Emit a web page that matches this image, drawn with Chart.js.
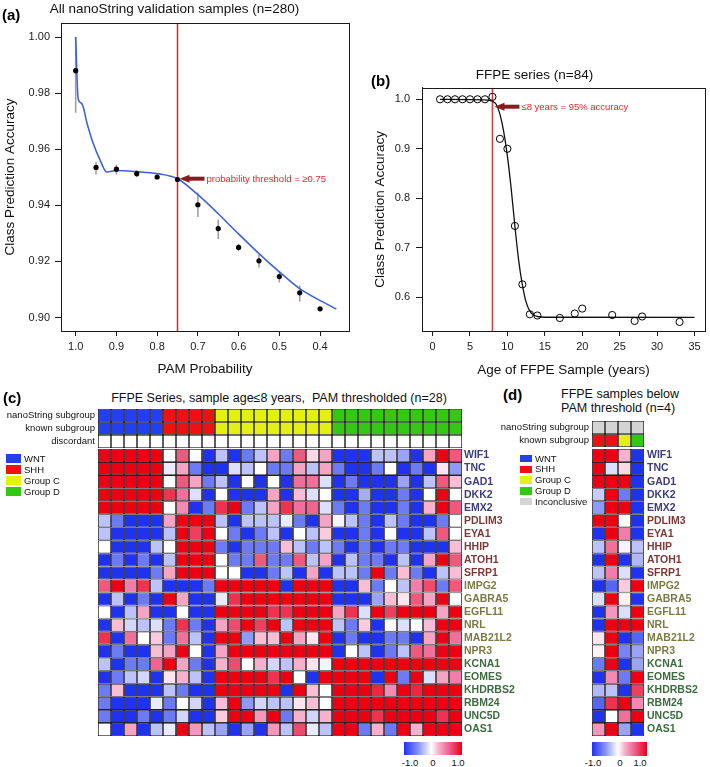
<!DOCTYPE html>
<html>
<head>
<meta charset="utf-8">
<script src="https://cdn.jsdelivr.net/npm/chart.js@4.4.1/dist/chart.umd.min.js"></script>
<style>
  body { margin: 0; background: #fff; font-family: "Liberation Sans", Arial, Helvetica, sans-serif; }
  #page { position: relative; width: 710px; height: 767px; overflow: hidden; background: #fff; }
  canvas { position: absolute; }
  .t { position: absolute; white-space: pre; line-height: 1; color: #111; }
  .panel { font-weight: bold; font-size: 15px; color: #000; }
  .sw { position: absolute; }
</style>
</head>
<body>
<div id="page">
  <canvas id="chartA" width="360" height="380" style="left:0;top:0"></canvas>
  <canvas id="chartB" width="350" height="322" style="left:360px;top:58px"></canvas>
  <canvas id="annoC" width="462" height="39" style="left:0;top:409px"></canvas>
  <canvas id="heatC" width="434" height="287" style="left:98px;top:449px"></canvas>
  <canvas id="annoD" width="164" height="26" style="left:480px;top:421px"></canvas>
  <canvas id="heatD" width="118" height="287" style="left:592px;top:449px"></canvas>

  <div class="t panel" style="left:2px;top:7px">(a)</div>
  <div class="t panel" style="left:371px;top:73px">(b)</div>
  <div class="t panel" style="left:3px;top:390px">(c)</div>
  <div class="t panel" style="left:503px;top:387px">(d)</div>

  <div class="t" style="left:279px;top:392px;font-size:12.5px;transform:translateX(-50%)">FFPE Series, sample age≤8 years,  PAM thresholded (n=28)</div>
  <div class="t" style="left:561px;top:388px;font-size:12.5px">FFPE samples below</div>
  <div class="t" style="left:561px;top:402px;font-size:12.5px">PAM threshold (n=4)</div>

  <div id="legendC"></div>
  <div id="legendD"></div>

  <div class="sw" style="left:404px;top:742px;width:58px;height:13px;background:linear-gradient(to right,#1e32f0,#8a95f2 25%,#fff 47%,#f4b0ca 60%,#ef5585 80%,#ec0012)"></div>
  <div class="t" style="left:410px;top:758px;font-size:9.5px;transform:translateX(-50%)">-1.0</div>
  <div class="t" style="left:433px;top:758px;font-size:9.5px;transform:translateX(-50%)">0</div>
  <div class="t" style="left:458px;top:758px;font-size:9.5px;transform:translateX(-50%)">1.0</div>

  <div class="sw" style="left:592px;top:742px;width:55px;height:14px;background:linear-gradient(to right,#1e32f0,#8a95f2 25%,#fff 47%,#f4b0ca 60%,#ef5585 80%,#ec0012)"></div>
  <div class="t" style="left:593px;top:758px;font-size:9.5px;transform:translateX(-50%)">-1.0</div>
  <div class="t" style="left:620px;top:758px;font-size:9.5px;transform:translateX(-50%)">0</div>
  <div class="t" style="left:640px;top:758px;font-size:9.5px;transform:translateX(-50%)">1.0</div>
</div>

<script>
// ---- (a) PAM probability vs accuracy ----
const pamProb = [1.0, 0.95, 0.9, 0.85, 0.8, 0.75, 0.7, 0.65, 0.6, 0.55, 0.5, 0.45, 0.4];
const pamAcc = [0.988, 0.9535, 0.9529, 0.9513, 0.9501, 0.9492, 0.9402, 0.9317, 0.925, 0.9202, 0.9146, 0.9088, 0.9031];
const pamErrLow = [0.973, 0.951, 0.951, 0.950, 0.9495, 0.9487, 0.9358, 0.928, 0.9237, 0.9178, 0.9125, 0.9057, 0.9031];
const pamErrHigh = [1.000, 0.9555, 0.9545, 0.9525, 0.9507, 0.9497, 0.9445, 0.9349, 0.9263, 0.9224, 0.9165, 0.9114, 0.9031];
const smoothProb = [1.0, 0.994, 0.985, 0.972, 0.957, 0.94, 0.924, 0.9, 0.85, 0.8, 0.75, 0.7, 0.65, 0.6, 0.55, 0.5, 0.45, 0.36];
const smoothAcc = [1.0, 0.978, 0.9763, 0.9692, 0.9621, 0.9561, 0.9519, 0.9524, 0.952, 0.9513, 0.9495, 0.9438, 0.937, 0.9298, 0.9228, 0.9163, 0.9103, 0.903];
const pamTicksX = [1.0, 0.9, 0.8, 0.7, 0.6, 0.5, 0.4];
const pamTicksY = [0.90, 0.92, 0.94, 0.96, 0.98, 1.00];
const pamThreshold = 0.75;

// ---- (b) FFPE age vs accuracy ----
const ffpeAge = [1, 2, 3, 4, 5, 6, 7, 8, 9, 10, 11, 12, 13, 14, 17, 19, 20, 24, 27, 28, 33];
const ffpeAcc = [1, 1, 1, 1, 1, 1, 1, 1.005, 0.92, 0.9, 0.744, 0.626, 0.5655, 0.563, 0.558, 0.567, 0.577, 0.564, 0.552, 0.561, 0.55];
const fitAge = [1, 7, 8, 8.5, 9, 9.5, 10, 10.5, 11, 11.5, 12, 12.5, 13, 13.5, 14, 15, 35];
const fitAcc = [1.0, 0.999, 0.996, 0.99, 0.97, 0.935, 0.885, 0.82, 0.744, 0.675, 0.625, 0.59, 0.572, 0.564, 0.561, 0.5595, 0.5594];
const ageTicks = [0, 5, 10, 15, 20, 25, 30, 35];
const ffpeTicksY = [0.6, 0.7, 0.8, 0.9, 1.0];
const ageThreshold = 8;

// ---- (c)/(d) heatmaps ----
const genes = ['WIF1', 'TNC', 'GAD1', 'DKK2', 'EMX2', 'PDLIM3', 'EYA1', 'HHIP', 'ATOH1', 'SFRP1',
  'IMPG2', 'GABRA5', 'EGFL11', 'NRL', 'MAB21L2', 'NPR3', 'KCNA1', 'EOMES', 'KHDRBS2', 'RBM24', 'UNC5D', 'OAS1'];
const geneGroup = ['WNT', 'WNT', 'WNT', 'WNT', 'WNT', 'SHH', 'SHH', 'SHH', 'SHH', 'SHH',
  'Group C', 'Group C', 'Group C', 'Group C', 'Group C', 'Group C', 'Group D', 'Group D', 'Group D', 'Group D', 'Group D', 'Group D'];
const subgroups = ['WNT', 'SHH', 'Group C', 'Group D'];
const subgroupsD = ['WNT', 'SHH', 'Group C', 'Group D', 'Inconclusive'];
const groupColor = { 'WNT': '#2340ee', 'SHH': '#ee1111', 'Group C': '#e4f014', 'Group D': '#33c812', 'Inconclusive': '#d4d4d4' };
const labelColor = { 'WNT': '#3b3d80', 'SHH': '#7d3838', 'Group C': '#7b7a44', 'Group D': '#3c6b3e' };

const nanoC = ['WNT', 'WNT', 'WNT', 'WNT', 'WNT', 'SHH', 'SHH', 'SHH', 'SHH',
  'Group C', 'Group C', 'Group C', 'Group C', 'Group C', 'Group C', 'Group C', 'Group C', 'Group C',
  'Group D', 'Group D', 'Group D', 'Group D', 'Group D', 'Group D', 'Group D', 'Group D', 'Group D', 'Group D'];
const knownC = nanoC.slice();
const discordantC = [0, 0, 0, 0, 0, 0, 0, 0, 0, 0, 0, 0, 0, 0, 0, 0, 0, 0, 0, 0, 0, 0, 0, 0, 0, 0, 0, 0];
const annoRowsC = ['nanoString subgroup', 'known subgroup', 'discordant'];

const heatC = [
  [1, 1, 1, 1, 1, 0, 0.65, 0, -1, -0.3, -1, -0.65, -0.3, 0.35, -0.65, 0.65, 0.15, 0.35, -1, -1, -1, -0.3, -0.3, -0.45, -1, 0.35, 1, 0.65],
  [1, 1, 1, 1, 1, -0.1, 0.35, -0.65, -1, -1, -0.15, -0.3, 0, -0.65, -0.65, 0.35, -0.3, 0.35, -0.65, -1, -1, -0.65, 0, -1, -0.65, -1, 0.1, -0.5],
  [1, 1, 1, 1, 1, 0, 0.65, 0.35, -0.65, -0.3, -1, 0, -1, 0, -1, 0.55, 0.55, -0.15, -1, -0.65, -1, -1, -1, -0.45, -1, -0.3, 0.65, 0.25],
  [1, 1, 1, 1, 1, 0.8, 0.55, -0.15, -1, 0, -1, -1, -1, 0.35, -1, 0.25, -0.15, 0, -1, -1, -0.4, -1, -1, -0.65, -1, 0, 1, 0],
  [1, 1, 1, 1, 1, 0, 0.45, -1, -0.65, 0.8, 1, -0.65, -0.3, 0.35, 0.8, 0.55, 0.6, -0.15, -0.65, -1, -0.65, -1, -1, -0.65, -1, 0.3, 1, 0.65],
  [-0.3, -0.65, -1, -1, -1, 0.35, 1, 1, 1, -0.3, -1, -0.3, -0.3, -0.3, -0.1, -0.65, -1, 0.35, -0.05, -0.3, -0.65, -1, -0.3, -0.65, -1, -1, -0.65, 0],
  [-0.3, -1, -1, -1, -1, -0.3, 1, 0.75, 1, 0, -0.65, -1, -0.65, -0.3, -1, 0, -0.3, 0.2, -1, -1, -0.65, -1, 0, -1, -1, -0.3, 0.65, 0],
  [0, -1, -1, -1, -0.3, 0, 1, 1, 1, -0.65, -1, -0.65, -0.65, -0.65, 0.25, -0.3, -0.65, -0.3, -0.65, -1, -0.65, -1, -0.65, -0.65, -1, -1, -1, 0.25],
  [-1, -0.65, -1, -0.65, -1, -0.3, 1, 1, 1, 0, -0.65, -0.65, 0.65, -0.65, -0.65, 0.65, -0.3, 0.35, -1, -0.3, -0.65, -0.65, -1, -0.3, -1, 0.35, 1, 0.65],
  [-1, -1, -1, -1, -0.65, 0.35, 1, 1, 1, 0, 0, -1, -1, -0.65, -0.3, -1, 0.35, -1, -0.3, -0.3, -0.65, 1, -0.65, 0.25, -0.65, -1, -0.3, 0.25],
  [0.65, 1, 0.5, 0.8, -0.3, -1, -1, -1, -0.65, 1, 1, 1, 1, 1, -1, 1, 1, 1, -1, -1, 0.25, -0.65, 0, -0.3, 0.5, 0.7, -0.65, 0.65],
  [-1, -0.3, -1, -0.65, -1, 1, 0.35, -1, -1, -0.1, 0.8, 1, 1, 1, 1, 1, 1, 1, -1, -1, -1, -0.45, 0.25, 0.1, 0.65, 0.35, 1, 0],
  [0, -1, -0.3, 0.35, -1, -1, 0, -1, -1, 1, 1, 1, 1, 0.8, 0.8, 1, 1, 1, 0.35, 0.8, -0.15, 1, 0.75, 1, 1, 1, 0.35, 1],
  [-1, 0.25, -0.2, -0.3, -0.15, -0.65, 0.8, -0.65, -1, 0.35, 0.7, 1, 0.75, 1, -0.3, 1, 1, 1, -0.3, -0.65, 0.2, -1, 0, -0.15, 0, 0.25, 1, 1],
  [0.8, -1, 0.55, 0, 0.2, -0.65, 0.55, -0.3, -1, 1, 1, -0.5, 0.25, 0.25, 1, 0.35, 0.1, 1, -1, -0.65, -1, -1, -0.65, -0.65, -1, 0.35, 1, 0.55],
  [-1, -0.65, -1, -1, 0.25, 0.35, 1, 0, -1, 0.35, 1, 1, 1, 1, 1, 1, 1, 1, -1, 0, -0.3, -1, -0.65, -0.3, 0.65, 0.55, 1, 1],
  [-0.3, -1, -0.65, -0.65, 0.6, 1, 0.35, -0.65, -1, 0.3, 0.7, 0, 0.3, -0.2, -0.3, 0.3, 0.1, -0.05, 1, 1, 1, 1, 1, 1, 1, 1, 1, 1],
  [-1, -0.65, -0.3, -0.2, -1, 0.1, 0.3, -0.3, -1, 1, 1, 1, 1, 0.8, 1, 0, -1, 1, 1, 1, 1, -1, 1, -0.65, 1, -0.15, 0.35, 0.5],
  [-0.65, 0.25, -1, -1, -1, -0.3, -0.65, -1, -1, 1, 1, 1, 1, 1, -1, 1, 0.25, 0, 1, 1, 1, 0.85, 0.45, 1, 0.85, 1, 1, 1],
  [-0.65, -1, -1, -1, -0.1, -0.65, 0, -0.2, -1, 0.25, 1, -0.5, -0.2, -0.3, -0.3, 0.1, 0.25, 0, 1, 1, 1, 1, 1, 1, 1, 1, 1, 1],
  [-0.65, -1, -1, -0.65, -1, -0.65, -0.2, -1, -1, 0.2, 1, 1, 0.4, 1, -0.65, 0.3, -0.2, 0.3, 1, 1, 1, 0.8, 1, 1, 1, 1, 0.8, 1],
  [0, -1, 0.35, -1, -0.3, -0.1, 1, 0.4, -0.3, -0.45, -1, -0.45, -1, 0.4, -0.3, 0.7, -0.1, -0.3, 1, 1, -0.65, 0.3, -0.65, 1, 0.3, 1, 1, 1]
];

const nanoD = ['Inconclusive', 'Inconclusive', 'Inconclusive', 'Inconclusive'];
const knownD = ['SHH', 'SHH', 'Group C', 'Group D'];
const annoRowsD = ['nanoString subgroup', 'known subgroup'];
const heatD = [
  [1, 1, 0.3, -1], [1, -0.15, 0.15, -1], [1, 1, 1, -1], [-0.25, 1, -0.65, -1], [-0.5, 1, 1, -1],
  [1, 1, 0, -1], [-1, 1, 0.5, -1], [-0.3, 0.55, -0.05, -0.3], [-1, 1, -1, -0.35], [-0.3, 0.5, -0.15, -1],
  [-1, -0.75, 0.2, 1], [-0.15, 1, 0.05, -1], [-1, 0.4, -0.15, 1], [-1, 1, 1, 1], [0.1, 1, -1, -0.75], [0.05, 1, -0.6, -0.45],
  [-0.65, 1, -1, -0.45], [-1, 0.45, -0.65, 1], [-0.35, -0.3, -1, 0.75], [-0.75, 0.8, 1, 0.45], [-1, 0, 0.55, 1], [0.4, 1, -0.45, -1]
];

const FONT = '"Liberation Sans", Arial, Helvetica, sans-serif';
Chart.defaults.font.family = FONT;
Chart.defaults.color = '#111';
Chart.defaults.animation = false;
Chart.defaults.events = [];
Chart.defaults.plugins.legend.display = false;
Chart.defaults.plugins.tooltip.enabled = false;

function heatColor(v) {
  const mix = (a, b, t) => a.map((c, i) => Math.round(c + (b[i] - c) * t));
  let c;
  if (v <= 0) c = mix([255, 255, 255], [30, 50, 240], -v);
  else if (v <= 0.5) c = mix([255, 255, 255], [242, 125, 170], v / 0.5);
  else c = mix([242, 125, 170], [236, 0, 18], (v - 0.5) / 0.5);
  return 'rgb(' + c.join(',') + ')';
}

// box round the plot area, like R's box()
const frame = {
  id: 'frame',
  afterDatasetsDraw(chart) {
    const { ctx, chartArea: a } = chart;
    ctx.save();
    ctx.strokeStyle = '#1a1a1a';
    ctx.lineWidth = 1;
    ctx.strokeRect(Math.round(a.left) + 0.5, Math.round(a.top) + 0.5, Math.round(a.right - a.left), Math.round(a.bottom - a.top));
    ctx.restore();
  }
};

const errorBars = {
  id: 'errorBars',
  beforeDatasetsDraw(chart) {
    const { ctx, scales } = chart;
    ctx.save();
    ctx.strokeStyle = '#9c9c9c';
    ctx.lineWidth = 1.5;
    pamProb.forEach((p, i) => {
      const px = scales.x.getPixelForValue(p);
      ctx.beginPath();
      ctx.moveTo(px, scales.y.getPixelForValue(pamErrLow[i]));
      ctx.lineTo(px, scales.y.getPixelForValue(pamErrHigh[i]));
      ctx.stroke();
    });
    ctx.restore();
  }
};

// vertical cut-off line plus arrow and note
function cutoff(id, xVal, yVal, note, lineColor) {
  return {
    id,
    beforeDatasetsDraw(chart) {
      const { ctx, chartArea: a, scales } = chart;
      const px = scales.x.getPixelForValue(xVal);
      ctx.save();
      ctx.strokeStyle = lineColor;
      ctx.lineWidth = 1.5;
      ctx.beginPath();
      ctx.moveTo(px, a.top);
      ctx.lineTo(px, a.bottom);
      ctx.stroke();
      ctx.restore();
    },
    afterDatasetsDraw(chart) {
      const { ctx, scales } = chart;
      const px = scales.x.getPixelForValue(xVal);
      const py = scales.y.getPixelForValue(yVal);
      ctx.save();
      ctx.fillStyle = '#8a1c1e';
      ctx.fillRect(px + 11, py - 2, 16, 4);
      ctx.beginPath();
      ctx.moveTo(px + 2, py);
      ctx.lineTo(px + 12, py - 4);
      ctx.lineTo(px + 12, py + 4);
      ctx.closePath();
      ctx.fill();
      ctx.fillStyle = '#e2262c';
      ctx.font = '9.5px ' + FONT;
      ctx.textBaseline = 'middle';
      ctx.fillText(note, px + 29, py + 0.5);
      ctx.restore();
    }
  };
}

function tickAxis(o) {
  return {
    type: 'linear',
    min: o.min,
    max: o.max,
    reverse: !!o.reverse,
    afterBuildTicks: s => { s.ticks = o.ticks.map(v => ({ value: v })); },
    afterFit: s => { if (s.isHorizontal()) s.height = o.size; else s.width = o.size; },
    grid: { drawOnChartArea: false, drawTicks: true, tickLength: o.tickLength, color: '#1a1a1a' },
    border: { display: true, color: '#1a1a1a' },
    ticks: { autoSkip: false, maxRotation: 0, padding: o.pad, font: { size: 11 }, color: '#1a1a1a',
      callback: v => Number(v).toFixed(o.digits) },
    title: { display: true, text: o.title, font: { size: 13.5 }, color: '#111', padding: o.titlePad }
  };
}

new Chart(document.getElementById('chartA'), {
  type: 'line',
  data: {
    datasets: [
      { data: pamProb.map((p, i) => ({ x: p, y: pamAcc[i] })), showLine: false,
        pointRadius: 2.6, pointBackgroundColor: '#000', pointBorderWidth: 0 },
      { data: smoothProb.map((p, i) => ({ x: p, y: smoothAcc[i] })), borderColor: '#3f63d8',
        borderWidth: 1.6, pointRadius: 0, cubicInterpolationMode: 'monotone', fill: false }
    ]
  },
  options: {
    responsive: false,
    layout: { padding: { left: 0, right: 11, top: 0, bottom: 0 } },
    plugins: {
      title: { display: true, text: 'All nanoString validation samples (n=280)', font: { size: 13.5, weight: 'normal' },
        color: '#111', padding: { top: 1.5, bottom: 5.3 } }
    },
    scales: {
      x: tickAxis({ min: 0.329, max: 1.036, reverse: true, ticks: pamTicksX, size: 49, tickLength: 5, pad: 4,
        digits: 1, title: 'PAM Probability', titlePad: { top: 0, bottom: 2.6 } }),
      y: tickAxis({ min: 0.8952, max: 1.005, ticks: pamTicksY, size: 61, tickLength: 6, pad: 5,
        digits: 2, title: 'Class Prediction Accuracy', titlePad: { top: 2.4, bottom: 0 } })
    }
  },
  plugins: [errorBars, cutoff('cutA', pamThreshold, 0.9495, 'probability threshold = ≥0.75', '#e8201f'), frame]
});

new Chart(document.getElementById('chartB'), {
  type: 'line',
  data: {
    datasets: [
      { data: ffpeAge.map((a, i) => ({ x: a, y: ffpeAcc[i] })), showLine: false,
        pointRadius: 3.6, pointBackgroundColor: 'rgba(255,255,255,0)', pointBorderColor: '#000', pointBorderWidth: 1 },
      { data: fitAge.map((a, i) => ({ x: a, y: fitAcc[i] })), borderColor: '#111',
        borderWidth: 1.3, pointRadius: 0, cubicInterpolationMode: 'monotone', fill: false }
    ]
  },
  options: {
    responsive: false,
    layout: { padding: { left: 0, right: 1, top: 5, bottom: 0 } },
    plugins: {
      title: { display: true, text: 'FFPE series (n=84)', font: { size: 13.5, weight: 'normal' },
        color: '#111', padding: { top: 4, bottom: 4.7 } }
    },
    scales: {
      x: tickAxis({ min: -1.41, max: 36.4, ticks: ageTicks, size: 49, tickLength: 5, pad: 4,
        digits: 0, title: 'Age of FFPE Sample (years)', titlePad: { top: 0, bottom: 1.6 } }),
      y: tickAxis({ min: 0.5317, max: 1.023, ticks: ffpeTicksY, size: 62, tickLength: 6, pad: 6,
        digits: 1, title: 'Class Prediction Accuracy', titlePad: { top: 11.9, bottom: 0 } })
    }
  },
  plugins: [cutoff('cutB', ageThreshold, 0.985, '≤8 years = 95% accuracy', '#d83a3a'), frame]
});

// grid of cells drawn as stacked horizontal bars, one dataset per column
function gridChart(canvasId, rowNames, cellColors, axis) {
  const nCols = cellColors[0].length;
  const datasets = [];
  for (let c = 0; c < nCols; c++) {
    datasets.push({
      data: rowNames.map(() => 1),
      backgroundColor: rowNames.map((_, r) => cellColors[r][c]),
      borderColor: '#222',
      borderWidth: 0.85,
      borderSkipped: false,
      barPercentage: 1,
      categoryPercentage: 1,
      inflateAmount: 0
    });
  }
  return new Chart(document.getElementById(canvasId), {
    type: 'bar',
    data: { labels: rowNames, datasets },
    options: {
      responsive: false,
      indexAxis: 'y',
      layout: { padding: 0 },
      scales: {
        x: { stacked: true, min: 0, max: nCols, display: false },
        y: {
          stacked: true,
          position: axis.position,
          grid: { display: false, drawTicks: false },
          border: { display: false },
          ticks: { autoSkip: false, padding: axis.pad, font: axis.font, color: axis.color },
          afterFit: s => { s.width = axis.width; s.paddingTop = 0; s.paddingBottom = 0; }
        }
      }
    }
  });
}

const geneTickColor = ctx => labelColor[geneGroup[ctx.index]];
const annoFont = { size: 9.5 };
const geneFont = { size: 10.5, weight: 'bold' };

gridChart('annoC', annoRowsC,
  [nanoC.map(g => groupColor[g]), knownC.map(g => groupColor[g]), discordantC.map(d => (d ? '#000' : '#fff'))],
  { position: 'left', width: 98, pad: 3, font: annoFont, color: '#111' });
gridChart('heatC', genes, heatC.map(row => row.map(heatColor)),
  { position: 'right', width: 70, pad: 2, font: geneFont, color: geneTickColor });
gridChart('annoD', annoRowsD,
  [nanoD.map(g => groupColor[g]), knownD.map(g => groupColor[g])],
  { position: 'left', width: 112, pad: 3, font: annoFont, color: '#111' });
gridChart('heatD', genes, heatD.map(row => row.map(heatColor)),
  { position: 'right', width: 66, pad: 3, font: geneFont, color: geneTickColor });

// subgroup keys
function buildKey(el, names, x, y0, boxW, boxH, step) {
  const host = document.getElementById(el);
  names.forEach((n, i) => {
    const cy = y0 + i * step;
    const box = document.createElement('div');
    box.className = 'sw';
    box.style.cssText = `left:${x}px;top:${cy - boxH / 2}px;width:${boxW}px;height:${boxH}px;background:${groupColor[n]}`;
    host.appendChild(box);
    const t = document.createElement('div');
    t.className = 't';
    t.style.cssText = `left:${x + boxW + 3}px;top:${cy - 5}px;font-size:9.5px`;
    t.textContent = n;
    host.appendChild(t);
  });
}
buildKey('legendC', subgroups, 6, 458.5, 15, 9, 11);
buildKey('legendD', subgroupsD, 520, 458.5, 12, 7.5, 10.8);
</script>
</body>
</html>
